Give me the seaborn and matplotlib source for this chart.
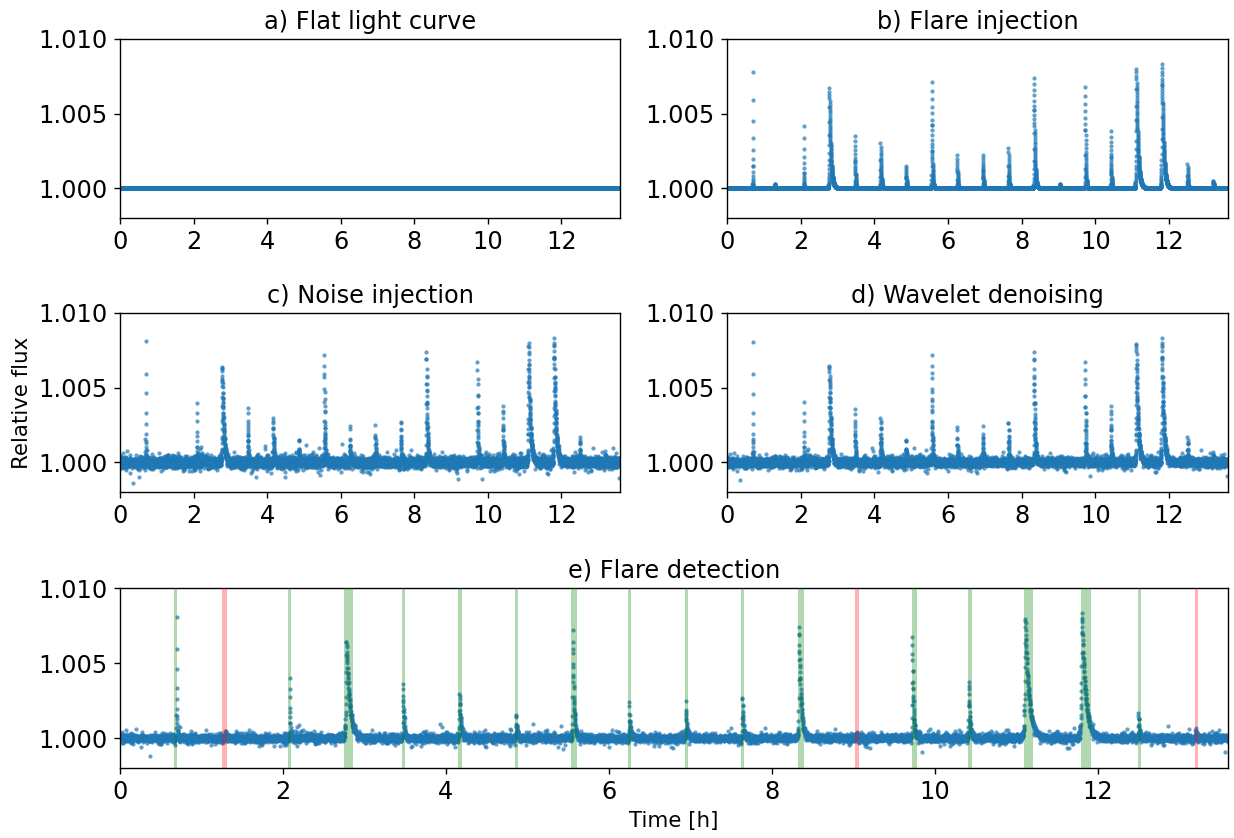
import numpy as np
import pandas as pd
import matplotlib
matplotlib.use('Agg')
import matplotlib.pyplot as plt
from matplotlib.ticker import FormatStrFormatter
import seaborn as sns

# 注入耀斑的参数 (时间 [h], 振幅, 衰减时间 [h])
flare_time = [0.694, 1.29, 2.083, 2.778, 3.472, 4.167, 4.861, 5.556, 6.25, 6.944,
              7.639, 8.333, 9.04, 9.722, 10.417, 11.111, 11.806, 12.5, 13.20]
flare_amp = [0.0078, 0.0003, 0.0042, 0.0067, 0.0035, 0.0030, 0.0015, 0.0071, 0.0022, 0.0022,
             0.0027, 0.0074, 0.0003, 0.0068, 0.0038, 0.0080, 0.0083, 0.0016, 0.0005]
flare_decay = [0.005, 0.015, 0.006, 0.04, 0.013, 0.018, 0.012, 0.016, 0.012, 0.014,
               0.014, 0.024, 0.015, 0.015, 0.014, 0.045, 0.045, 0.012, 0.015]

# 检测结果：绿色 = 检测到的耀斑, 红色 = 漏检
detected_start = [0.666, 2.057, 2.747, 3.46, 4.15, 4.844, 5.54, 6.237, 6.937, 7.626,
                  8.32, 9.716, 10.414, 11.10, 11.80, 12.495]
detected_end = [0.70, 2.10, 2.866, 3.50, 4.20, 4.88, 5.61, 6.268, 6.973, 7.662,
                8.40, 9.784, 10.46, 11.21, 11.92, 12.53]
missed_start = [1.253, 9.027, 13.194]
missed_end = [1.314, 9.072, 13.23]

t_end = 13.6
cadence = 1 / 720  # 5 s

titles = ['a) Flat light curve', 'b) Flare injection', 'c) Noise injection',
          'd) Wavelet denoising', 'e) Flare detection']


def flare_model(t):
    flux = np.ones_like(t)
    for t0, amp, tau in zip(flare_time, flare_amp, flare_decay):
        t0 = round(t0 / cadence) * cadence
        rise = tau / 6
        dt = t - t0
        prof = np.where(dt >= 0, np.exp(-np.clip(dt, 0, None) / tau),
                        np.exp(np.clip(dt, None, 0) / rise))
        flux += amp * prof
    return flux


def run():
    plt.rcParams['font.family'] = ['DejaVu Sans']
    plt.rcParams['font.size'] = 14
    plt.rcParams['axes.labelsize'] = 12.5

    t = np.arange(0, t_end, cadence)
    flux_a = np.ones_like(t)
    flux_b = flare_model(t)

    # 噪声 (固定种子)
    rng = np.random.default_rng(3)
    white = 1.3e-4 * rng.standard_t(5, t.size)
    spikes = np.where(rng.random(t.size) < 0.003, rng.normal(0, 6e-4, t.size), 0)
    flux_c = flux_b + white + spikes
    flux_d = flux_b + 0.85 * white + 0.45 * spikes

    fig = plt.figure(figsize=(10, 838 / 123.4), dpi=123.4)
    W, H = 1234, 838

    def box(x0, x1, y0, y1):
        return [x0 / W, 1 - y1 / H, (x1 - x0) / W, (y1 - y0) / H]

    axes = [
        fig.add_axes(box(120, 620, 39, 218)),
        fig.add_axes(box(727, 1228, 39, 218)),
        fig.add_axes(box(120, 620, 313, 492)),
        fig.add_axes(box(727, 1228, 313, 492)),
        fig.add_axes(box(120, 1228, 588, 768)),
    ]
    data = [flux_a, flux_b, flux_c, flux_d, flux_d]

    for ax, flux, title in zip(axes, data, titles):
        df = pd.DataFrame({'time': t, 'flux': flux})
        sns.scatterplot(data=df, x='time', y='flux', ax=ax, s=6, linewidth=0,
                        alpha=0.7, color='tab:blue')
        ax.set_xlim(0, t_end)
        ax.set_ylim(0.998, 1.010)
        ax.set_yticks([1.000, 1.005, 1.010])
        ax.yaxis.set_major_formatter(FormatStrFormatter('%.3f'))
        ax.set_xticks(range(0, 13, 2))
        ax.set_title(title, fontsize=14)
        ax.set_xlabel('')
        ax.set_ylabel('')

    ax_e = axes[4]
    for s0, s1 in zip(detected_start, detected_end):
        ax_e.axvspan(s0, s1, color='green', alpha=0.3, linewidth=0, zorder=3)
    for s0, s1 in zip(missed_start, missed_end):
        ax_e.axvspan(s0, s1, color='red', alpha=0.3, linewidth=0, zorder=3)

    axes[2].set_ylabel('Relative flux')
    ax_e.set_xlabel('Time [h]')

    fig.savefig('out.png', dpi=123.4)


if __name__ == '__main__':
    run()
